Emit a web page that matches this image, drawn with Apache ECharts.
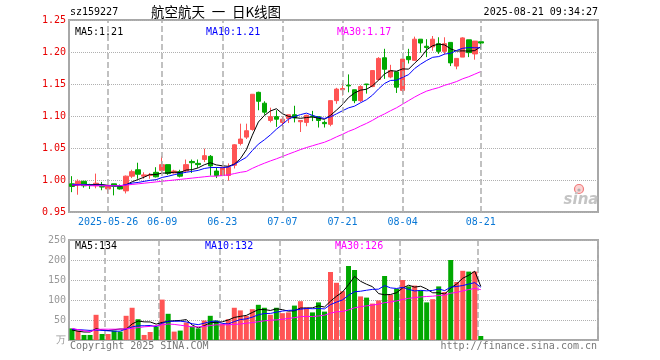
<!DOCTYPE html>
<html><head><meta charset="utf-8">
<script src="https://cdn.jsdelivr.net/npm/echarts@6/dist/echarts.min.js"></script>
<style>html,body{margin:0;padding:0;background:#fff}#c{width:660px;height:360px}</style>
</head><body><div id="c"></div>
<script>
// ---------- data ----------
const dates = [
 '2025-05-16','2025-05-19','2025-05-20','2025-05-21','2025-05-22','2025-05-23','2025-05-26','2025-05-27','2025-05-28','2025-05-29','2025-05-30',
 '2025-06-03','2025-06-04','2025-06-05','2025-06-06','2025-06-09','2025-06-10','2025-06-11','2025-06-12','2025-06-13','2025-06-16','2025-06-17','2025-06-18','2025-06-19','2025-06-20','2025-06-23','2025-06-24','2025-06-25','2025-06-26','2025-06-27','2025-06-30',
 '2025-07-01','2025-07-02','2025-07-03','2025-07-04','2025-07-07','2025-07-08','2025-07-09','2025-07-10','2025-07-11','2025-07-14','2025-07-15','2025-07-16','2025-07-17','2025-07-18','2025-07-21','2025-07-22','2025-07-23','2025-07-24','2025-07-25','2025-07-28','2025-07-29','2025-07-30','2025-07-31',
 '2025-08-01','2025-08-04','2025-08-05','2025-08-06','2025-08-07','2025-08-08','2025-08-11','2025-08-12','2025-08-13','2025-08-14','2025-08-15','2025-08-18','2025-08-19','2025-08-20','2025-08-21'
];
const opens  = [0.994,0.993,0.998,0.993,0.991,0.990,0.986,0.994,0.990,0.983,1.006,1.016,1.006,1.007,1.012,1.015,1.024,1.011,1.013,1.014,1.029,1.026,1.032,1.037,1.014,1.007,1.007,1.023,1.057,1.067,1.079,1.137,1.120,1.093,1.099,1.090,1.096,1.102,1.091,1.090,1.100,1.099,1.090,1.087,1.124,1.141,1.148,1.141,1.124,1.150,1.146,1.157,1.191,1.161,1.169,1.140,1.193,1.187,1.220,1.209,1.208,1.213,1.201,1.215,1.178,1.192,1.219,1.197,1.216];
const closes = [0.990,0.998,0.991,0.992,0.995,0.989,0.991,0.990,0.986,1.006,1.013,1.009,1.008,1.008,1.005,1.024,1.010,1.014,1.006,1.024,1.027,1.024,1.038,1.022,1.007,1.020,1.020,1.055,1.064,1.077,1.134,1.123,1.106,1.099,1.095,1.095,1.102,1.097,1.093,1.101,1.099,1.093,1.088,1.124,1.142,1.143,1.147,1.124,1.146,1.149,1.171,1.190,1.173,1.171,1.145,1.189,1.188,1.220,1.214,1.207,1.220,1.201,1.213,1.183,1.190,1.222,1.199,1.217,1.214];
const lows   = [0.981,0.977,0.988,0.986,0.987,0.984,0.979,0.976,0.985,0.979,1.003,1.002,1.002,1.002,1.004,1.010,1.008,1.010,1.004,1.011,1.011,1.019,1.028,1.007,1.003,1.006,0.999,1.018,1.054,1.064,1.077,1.109,1.102,1.090,1.083,1.083,1.089,1.090,1.075,1.084,1.092,1.082,1.082,1.084,1.119,1.132,1.137,1.120,1.122,1.135,1.145,1.155,1.158,1.159,1.136,1.137,1.182,1.186,1.199,1.192,1.202,1.197,1.196,1.178,1.173,1.192,1.192,1.188,1.204];
const highs  = [1.006,1.001,0.998,0.994,1.010,0.997,0.994,0.994,0.993,1.007,1.016,1.027,1.012,1.011,1.020,1.037,1.024,1.016,1.016,1.032,1.032,1.032,1.049,1.039,1.020,1.023,1.026,1.056,1.088,1.088,1.134,1.138,1.123,1.113,1.109,1.099,1.102,1.116,1.093,1.102,1.108,1.099,1.093,1.124,1.144,1.152,1.165,1.141,1.148,1.150,1.171,1.192,1.205,1.180,1.169,1.189,1.205,1.224,1.220,1.220,1.225,1.223,1.223,1.215,1.190,1.223,1.219,1.217,1.216];
const volumes = [29,23.5,12.6,12.6,63,15,15,23.5,21,60.5,80.6,52,12.6,20,33.6,101,65.5,21,23.5,43.7,33.6,29,48.7,60.5,48.7,40.3,52,80.6,74,60.5,77,88,80.6,63,80.6,67,69,86,97,81,69,94,71,170,143,122,185,175,109,106,91,99,160,113,128,150,134,136,124,94,102,134,120,200,145,173,171,171,10];

const ma5Head  = [0.991,0.992,0.993,0.992];
const ma10Head = [0.993,0.993,0.993,0.992,0.992,0.992,0.991,0.991,0.991];
const ma30Head = [0.992,0.992,0.992,0.991,0.991,0.991,0.991,0.991,0.991,0.992,0.993,0.994,0.995,0.996,0.997,0.998,0.999,1.000,1.001,1.002,1.003,1.004,1.005,1.006,1.006,1.007,1.008,1.010,1.012];
const vma5Head  = [25,22,20,20];
const vma10Head = [27,26,25,24,25,24,23,22,22];
const vma30Head = [29,26,23,21,26,27,27,27,27,28,29,31,33,34,36,38,40,39,37,35,33,33,34,36,38,38,38,39,40];

const tickIdx    = [6,15,25,35,45,55,68];
const tickLabels = ['2025-05-26','06-09','06-23','07-07','07-21','08-04','08-21'];
const priceMin = 0.95, priceMax = 1.25, priceStep = 0.05;
const volMin = 0, volMax = 250, volStep = 50;
const futureSlots = 19;

const titleCode = 'sz159227';
const titleName = '航空航天\u2002一\u2002日K线图';
const titleTime = '2025-08-21 09:34:27';
const maLabels  = ['MA5:1.21','MA10:1.21','MA30:1.17'];
const vmaLabels = ['MA5:134','MA10:132','MA30:126'];

// ---------- helpers ----------
function ma(arr, n, head){
  return arr.map((v,i)=>{
    if(i < n-1) return head[i];
    let s=0; for(let k=i-n+1;k<=i;k++) s+=arr[k];
    return +(s/n).toFixed(4);
  });
}
const RED='#ff5454', GREEN='#00a800';
const MONO='"DejaVu Sans Mono", "Liberation Mono", monospace';
const cats = dates.concat(Array(futureSlots).fill(''));
const candle = dates.map((d,i)=>[opens[i],closes[i],lows[i],highs[i]]);
const volData = volumes.map((v,i)=>({value:v,itemStyle:{color: closes[i]>=opens[i]?RED:GREEN}}));
const DASH = {color:'#adadad', type:'dashed', width:1.5};
const vlines = tickIdx.map(i=>({xAxis: i}));
const markLineOpt = {silent:true, symbol:['none','none'], label:{show:false}, lineStyle:DASH, data:vlines, animation:false};

const chart = echarts.init(document.getElementById('c'), null, {renderer:'canvas'});
const gridBase = {left:69, right:62, show:true, borderColor:'#a8a8a8', borderWidth:2, backgroundColor:'transparent', containLabel:false};

function txt(text, x, y, color, font, align){
  return {type:'text', x:x, y:y, silent:true, z:100,
    style:{text:text, fill:color, font:font, textAlign:align||'left', textVerticalAlign:'middle'}};
}

chart.setOption({
  animation:false,
  grid:[ Object.assign({top:20, height:192}, gridBase), Object.assign({top:240, height:100}, gridBase) ],
  xAxis:[
    {type:'category', gridIndex:0, data:cats, boundaryGap:true,
     axisLine:{show:false}, axisTick:{show:false}, splitLine:{show:false},
     axisLabel:{color:'#0a78d6', fontFamily:MONO, fontSize:10, margin:5,
       interval:(idx)=>tickIdx.indexOf(idx)>=0,
       formatter:(v,idx)=>{const k=tickIdx.indexOf(idx); return k>=0?tickLabels[k]:'';}}},
    {type:'category', gridIndex:1, data:cats, boundaryGap:true,
     axisLine:{show:false}, axisTick:{show:false}, axisLabel:{show:false},
     splitLine:{show:true, interval:(idx)=>tickIdx.indexOf(idx)>=0, lineStyle:DASH}}
  ],
  yAxis:[
    {type:'value', gridIndex:0, min:priceMin, max:priceMax, interval:priceStep,
     axisLine:{show:false}, axisTick:{show:false},
     splitLine:{show:true, lineStyle:{color:'#b0b0b0', type:'dotted', width:1}},
     axisLabel:{color:'#e80000', fontFamily:MONO, fontSize:10, margin:3, showMinLabel:true, showMaxLabel:true,
       formatter:(v)=>v.toFixed(2)}},
    {type:'value', gridIndex:1, min:volMin, max:volMax, interval:volStep,
     axisLine:{show:false}, axisTick:{show:false},
     splitLine:{show:true, lineStyle:{color:'#b0b0b0', type:'dotted', width:1}},
     axisLabel:{color:'#999', fontFamily:MONO, fontSize:10, margin:3, showMinLabel:true, showMaxLabel:true,
       formatter:(v)=>v===0?'万':String(v)}}
  ],
  series:[
    {type:'candlestick', xAxisIndex:0, yAxisIndex:0, data:candle, barWidth:5, z:3,
     itemStyle:{color:RED, color0:GREEN, borderColor:RED, borderColor0:GREEN, borderWidth:1},
     markLine:markLineOpt},
    {type:'line', xAxisIndex:0, yAxisIndex:0, data:ma(closes,5,ma5Head), symbol:'none', z:4, lineStyle:{color:'#000', width:1}},
    {type:'line', xAxisIndex:0, yAxisIndex:0, data:ma(closes,10,ma10Head), symbol:'none', z:4, lineStyle:{color:'#0000ff', width:1}},
    {type:'line', xAxisIndex:0, yAxisIndex:0, data:ma(closes,30,ma30Head), symbol:'none', z:4, lineStyle:{color:'#ff00ff', width:1}},
    {type:'bar', xAxisIndex:1, yAxisIndex:1, data:volData, barWidth:5, z:3},
    {type:'line', xAxisIndex:1, yAxisIndex:1, data:ma(volumes,5,vma5Head), symbol:'none', z:4, lineStyle:{color:'#000', width:1}},
    {type:'line', xAxisIndex:1, yAxisIndex:1, data:ma(volumes,10,vma10Head), symbol:'none', z:4, lineStyle:{color:'#0000ff', width:1}},
    {type:'line', xAxisIndex:1, yAxisIndex:1, data:ma(volumes,30,vma30Head), symbol:'none', z:4, lineStyle:{color:'#ff00ff', width:1}}
  ],
  graphic:[
    txt(titleCode, 70, 12, '#000', '10px '+MONO),
    txt(titleName, 216, 12, '#000', '13.5px "Noto Sans CJK SC"', 'center'),
    txt(titleTime, 598, 12, '#000', '10px '+MONO, 'right'),
    txt(maLabels[0], 75, 32, '#000', '10px '+MONO),
    txt(maLabels[1], 206, 32, '#0000ff', '10px '+MONO),
    txt(maLabels[2], 337, 32, '#ff00ff', '10px '+MONO),
    txt(vmaLabels[0], 75, 246, '#000', '10px '+MONO),
    txt(vmaLabels[1], 205, 246, '#0000ff', '10px '+MONO),
    txt(vmaLabels[2], 335, 246, '#ff00ff', '10px '+MONO),
    txt('Copyright 2025 SINA.COM', 70, 346, '#777', '10px '+MONO),
    txt('http://finance.sina.com.cn', 597, 346, '#777', '10px '+MONO, 'right'),
    {type:'circle', shape:{cx:579, cy:189, r:4.5}, silent:true, z:99,
     style:{fill:'#fbd3d3', stroke:'#f07a7a', lineWidth:1.2}},
    {type:'circle', shape:{cx:579, cy:190, r:1.6}, silent:true, z:100, style:{fill:'#b0b0b0'}},
    txt('sina', 581, 200, '#c4c4c4', 'italic bold 15px "DejaVu Sans"', 'center')
  ]
});
</script>
</body></html>
